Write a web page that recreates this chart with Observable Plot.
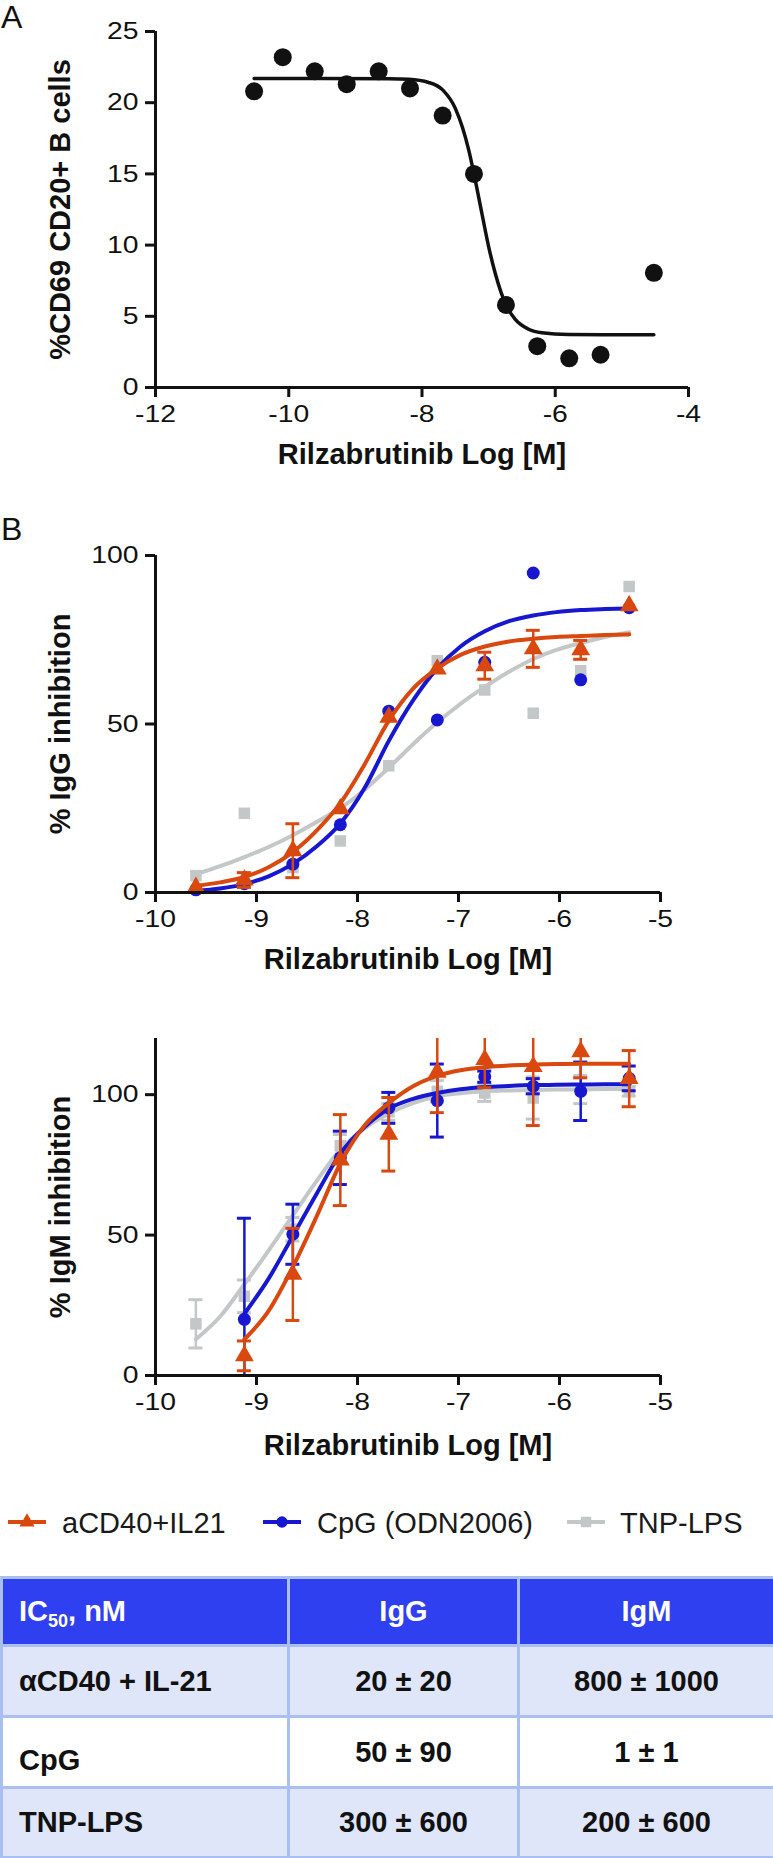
<!DOCTYPE html>
<html><head><meta charset="utf-8">
<script src="https://cdn.jsdelivr.net/npm/d3@7"></script>
<script src="https://cdn.jsdelivr.net/npm/@observablehq/plot@0.6"></script>
<style>
html,body{margin:0;padding:0;background:#fff}
body{position:relative;width:773px;height:1858px;overflow:hidden;font-family:"Liberation Sans",Arial,Helvetica,sans-serif;color:#111}
.panel{position:absolute;left:0}
.tag{position:absolute;left:1px;font-size:32px;line-height:1}
table{position:absolute;left:0;top:1576px;width:773px;border-collapse:collapse;table-layout:fixed;font-weight:bold;font-size:29px;color:#111}
td,th{border:3px solid #a9bff2;padding:0 0 0 16px;text-align:left;font-weight:bold}
th{background:#2e40f0;color:#fff}
td.c,th.c{text-align:center;padding:0}
tr.shade td{background:#dfe6fa}
sub{font-size:18px;vertical-align:-6px;line-height:0}
</style></head>
<body>
<div class="tag" style="top:1px">A</div>
<div class="tag" style="top:513px">B</div>
<div id="pa" class="panel" style="top:0"></div>
<div id="pb" class="panel" style="top:500px"></div>
<div id="pc" class="panel" style="top:1000px"></div>
<div id="legend"></div>
<div id="tbl"></div>
<script>
// ---------- Panel A data ----------
const xTicksA = [-12, -10, -8, -6, -4];
const yTicksA = [0, 5, 10, 15, 20, 25];
const logConcA = [-10.52, -10.09, -9.61, -9.13, -8.65, -8.18, -7.69, -7.22, -6.74, -6.27, -5.79, -5.32, -4.52];
const pctCD69 = [20.8, 23.2, 22.2, 21.3, 22.2, 21.0, 19.1, 15.0, 5.8, 2.9, 2.05, 2.3, 8.05];
const fitLogA = [-10.52, -9.5, -8.5, -8.2, -7.9, -7.69, -7.5, -7.3, -7.22, -7.1, -7.0, -6.9, -6.74, -6.6, -6.4, -6.2, -5.8, -5.0, -4.52];
const fitCD69 = [21.7, 21.7, 21.68, 21.64, 21.42, 20.9, 19.6, 16.7, 15.0, 12.2, 9.9, 8.0, 5.8, 4.78, 4.09, 3.84, 3.72, 3.7, 3.7];

// ---------- Panel B data ----------
const xTicksB = [-10, -9, -8, -7, -6, -5];
const yTicksIgG = [0, 50, 100];
const yTicksIgM = [0, 50, 100];
const yMaxIgM = 120;
const seriesNames = ["aCD40+IL21", "CpG (ODN2006)", "TNP-LPS"];
const seriesColors = ["#d9480f", "#1717cf", "#c3c7c7"];
const seriesSymbols = ["triangle", "circle", "square"];
const logConc = [-9.6, -9.12, -8.64, -8.17, -7.69, -7.21, -6.74, -6.26, -5.79, -5.31];

const iggAcd40   = [1.5, 3.7, 12.4, 24.8, 52.0, 66.3, 67.3, 72.3, 72.0, 85.1];
const iggAcd40Sd = [0, 2.2, 8, 0, 0, 0, 4, 5.5, 2.8, 0];
const iggCpg     = [0.8, 2.6, 8.4, 20.1, 53.8, 51.2, 68.3, 94.8, 63.1, 84.5];
const iggCpgSd   = [0, 0, 0, 0, 0, 0, 0, 0, 0, 0];
const iggTnp     = [5.0, 23.5, 7.4, 15.3, 37.6, 68.8, 60.1, 53.2, 65.8, 90.8];
const iggTnpSd   = [0, 0, 0, 0, 0, 0, 0, 0, 0, 0];

const igmAcd40   = [null, 7.0, 36, 76.7, 85.9, 108, 112.5, 110, 115.3, 105.7];
const igmAcd40Sd = [null, 5.3, 16.4, 16.2, 13.1, 14.4, 10, 21, 9.3, 10];
const igmCpg     = [null, 20, 50.3, 77.5, 95.3, 97.9, 106.4, 103, 101.2, 105.8];
const igmCpgSd   = [null, 36, 10.7, 9.5, 5.5, 13, 2, 2.7, 10.4, 4.4];
const igmTnp     = [18.4, 28.2, 52.1, 81.8, 93.9, 101.2, 100.6, 98.8, 101.8, 101.2];
const igmTnpSd   = [8.6, 5.8, 4.2, 4, 3, 3.8, 3, 7.5, 5, 1.7];

const fitLog = [-9.6, -9.36, -9.12, -8.88, -8.64, -8.4, -8.17, -7.93, -7.69, -7.45, -7.21, -6.98, -6.74, -6.5, -6.26, -6.03, -5.79, -5.55, -5.31];
const fitIggAcd40 = [2.0, 3.0, 4.6, 7.5, 12.0, 18.5, 26.5, 38, 51, 60.5, 66.5, 70.5, 73, 74.5, 75.3, 75.8, 76.1, 76.4, 76.6];
const fitIggCpg   = [0.5, 1.2, 2.5, 4.8, 8.5, 13.8, 20.5, 31, 45, 57, 66.5, 73, 77.5, 80.5, 82.2, 83.2, 83.8, 84.1, 84.3];
const fitIggTnp   = [5.4, 7.8, 10.5, 13.5, 17, 21, 25, 30.5, 37, 44, 50.5, 56, 61, 65.5, 69.3, 72, 74, 75.8, 77.2];
const fitIgmAcd40 = [null, null, 12.9, 23, 38.7, 57, 75.5, 89, 97, 103, 106.7, 108.7, 109.8, 110.4, 110.7, 110.9, 111, 111, 111];
const fitIgmCpg   = [null, null, 22, 34.5, 49.7, 65, 79, 88.5, 95, 98.5, 100.6, 101.9, 102.7, 103.1, 103.4, 103.5, 103.6, 103.7, 103.7];
const fitIgmTnp   = [12.9, 21, 32.5, 44.5, 57, 69.5, 80.4, 88, 93.3, 97, 99.4, 100.5, 101.2, 101.5, 101.7, 101.8, 101.9, 102, 102];

// ---------- Table data ----------
const tableHeader = ["IC50, nM", "IgG", "IgM"];
const tableRows = ["αCD40 + IL-21", "CpG", "TNP-LPS"];
const ic50IgG = ["20 ± 20", "50 ± 90", "300 ± 600"];
const ic50IgM = ["800 ± 1000", "1 ± 1", "200 ± 600"];

const FONT = '"Liberation Sans", Arial, Helvetica, sans-serif';
const INK = "#111";
const xLabel = "Rilzabrutinib Log [M]";

function axes(xt, yt, yLabel, xOff, yOff) {
  return [
    Plot.axisX(xt, {tickSize: 10, tickPadding: 7, fontSize: 24, strokeWidth: 3, stroke: INK, fill: INK, tickFormat: d => String(d), label: null}),
    Plot.axisY(yt, {tickSize: 10, tickPadding: 7, fontSize: 24, strokeWidth: 3, stroke: INK, fill: INK, tickFormat: d => String(d), label: null}),
    Plot.axisX([], {tickSize: 0, label: xLabel, labelAnchor: "center", labelOffset: xOff, labelArrow: "none", fontSize: 29, fontWeight: "bold", fill: INK}),
    Plot.axisY([], {tickSize: 0, label: yLabel, labelAnchor: "center", labelOffset: yOff, labelArrow: "none", fontSize: 29, fontWeight: "bold", fill: INK})
  ];
}
// the original figure's tick numerals are slightly wide: stretch them horizontally
function widenTicks(svg) {
  d3.select(svg).selectAll('g[aria-label="x-axis tick label"] text, g[aria-label="y-axis tick label"] text')
    .attr("transform", function() { return (this.getAttribute("transform") || "") + " scale(1.18,1)"; });
  return svg;
}

// ---------- Panel A ----------
const ptsA = logConcA.map((x, i) => ({x, y: pctCD69[i]}));
const fitA = fitLogA.map((x, i) => ({x, y: fitCD69[i]}));
const chartA = Plot.plot({
  width: 773, height: 480,
  marginTop: 31, marginLeft: 155, marginRight: 85, marginBottom: 93,
  style: {fontFamily: FONT, color: INK, background: "transparent", overflow: "visible"},
  x: {domain: [xTicksA[0], xTicksA[xTicksA.length - 1]]},
  y: {domain: [yTicksA[0], yTicksA[yTicksA.length - 1]]},
  marks: [
    ...axes(xTicksA, yTicksA, "%CD69 CD20+ B cells", 76, 106),
    Plot.ruleY([yTicksA[0]], {stroke: INK, strokeWidth: 3}),
    Plot.ruleX([xTicksA[0]], {stroke: INK, strokeWidth: 3}),
    Plot.line(fitA, {x: "x", y: "y", stroke: INK, strokeWidth: 3.5, curve: "monotone-x"}),
    Plot.dot(ptsA, {x: "x", y: "y", r: 9, fill: INK})
  ]
});
document.getElementById("pa").append(widenTicks(chartA));

// ---------- Panels B ----------
function buildSeries(vals, sds) {
  return vals.map((v, si) => logConc.map((x, i) => ({x, y: v[i], sd: sds[si][i], s: si})).filter(d => d.y != null));
}
function buildFits(fits) {
  return fits.map((f, si) => fitLog.map((x, i) => ({x, y: f[i], s: si})).filter(d => d.y != null));
}
function seriesMarks(pts, fits) {
  const m = [];
  for (const si of [2, 1, 0]) {
    const p = pts[si];
    const e = p.filter(d => d.sd > 0);
    const c = seriesColors[si];
    m.push(Plot.ruleX(e, {x: "x", y1: d => d.y - d.sd, y2: d => d.y + d.sd, stroke: c, strokeWidth: 2.5, clip: true}));
    m.push(Plot.ruleY(e, {y: d => d.y - d.sd, x1: "x", x2: "x", insetLeft: -7, insetRight: -7, stroke: c, strokeWidth: 3, clip: true}));
    m.push(Plot.ruleY(e, {y: d => d.y + d.sd, x1: "x", x2: "x", insetLeft: -7, insetRight: -7, stroke: c, strokeWidth: 3, clip: true}));
    m.push(Plot.line(fits[si], {x: "x", y: "y", stroke: c, strokeWidth: 4, curve: "monotone-x"}));
    m.push(Plot.dot(p, {x: "x", y: "y", r: si === 0 ? 7 : 6.5, symbol: seriesSymbols[si], fill: c}));
  }
  return m;
}

const ptsIgG = buildSeries([iggAcd40, iggCpg, iggTnp], [iggAcd40Sd, iggCpgSd, iggTnpSd]);
const fitsIgG = buildFits([fitIggAcd40, fitIggCpg, fitIggTnp]);
const chartB = Plot.plot({
  width: 773, height: 480,
  marginTop: 55, marginLeft: 155, marginRight: 113, marginBottom: 88,
  style: {fontFamily: FONT, color: INK, background: "transparent", overflow: "visible"},
  x: {domain: [xTicksB[0], xTicksB[xTicksB.length - 1]]},
  y: {domain: [yTicksIgG[0], yTicksIgG[yTicksIgG.length - 1]]},
  marks: [
    ...seriesMarks(ptsIgG, fitsIgG),
    ...axes(xTicksB, yTicksIgG, "% IgG inhibition", 76, 106),
    Plot.ruleY([yTicksIgG[0]], {stroke: INK, strokeWidth: 3}),
    Plot.ruleX([xTicksB[0]], {stroke: INK, strokeWidth: 3})
  ]
});
document.getElementById("pb").append(widenTicks(chartB));

const ptsIgM = buildSeries([igmAcd40, igmCpg, igmTnp], [igmAcd40Sd, igmCpgSd, igmTnpSd]);
const fitsIgM = buildFits([fitIgmAcd40, fitIgmCpg, fitIgmTnp]);
const chartC = Plot.plot({
  width: 773, height: 470,
  marginTop: 38, marginLeft: 155, marginRight: 113, marginBottom: 95,
  style: {fontFamily: FONT, color: INK, background: "transparent", overflow: "visible"},
  x: {domain: [xTicksB[0], xTicksB[xTicksB.length - 1]]},
  y: {domain: [yTicksIgM[0], yMaxIgM]},
  marks: [
    ...seriesMarks(ptsIgM, fitsIgM),
    ...axes(xTicksB, yTicksIgM, "% IgM inhibition", 79, 106),
    Plot.ruleY([yTicksIgM[0]], {stroke: INK, strokeWidth: 3}),
    Plot.ruleX([xTicksB[0]], {stroke: INK, strokeWidth: 3})
  ]
});
document.getElementById("pc").append(widenTicks(chartC));

// ---------- Legend ----------
const legend = document.getElementById("legend");
const markerLeft = [8, 263, 567];
const textLeft = [62, 317, 620];
seriesNames.forEach((name, i) => {
  const w = 38, h = 44;
  const svg = d3.create("svg").attr("width", w).attr("height", h)
    .style("position", "absolute").style("left", markerLeft[i] + "px").style("top", "1500px");
  svg.append("line").attr("x1", 0).attr("x2", w).attr("y1", 22).attr("y2", 22)
    .attr("stroke", seriesColors[i]).attr("stroke-width", 4);
  const sym = {triangle: d3.symbolTriangle, circle: d3.symbolCircle, square: d3.symbolSquare}[seriesSymbols[i]];
  svg.append("path").attr("d", d3.symbol(sym, i === 2 ? 110 : 100)()).attr("transform", `translate(${w / 2},22)`)
    .attr("fill", seriesColors[i]);
  legend.append(svg.node());
  const span = document.createElement("span");
  span.textContent = name;
  span.style.cssText = `position:absolute;left:${textLeft[i]}px;top:1509px;font-size:29px;line-height:1;white-space:nowrap;color:#1a1a1a`;
  legend.append(span);
});

// ---------- Table ----------
const rowH = [68, 71, 71, 70];
let html = `<table><colgroup><col style="width:287px"><col style="width:230px"><col style="width:256px"></colgroup>`;
html += `<tr style="height:${rowH[0]}px"><th>${tableHeader[0].replace("50", "<sub>50</sub>")}</th><th class="c">${tableHeader[1]}</th><th class="c">${tableHeader[2]}</th></tr>`;
tableRows.forEach((r, i) => {
  html += `<tr class="${i % 2 === 0 ? "shade" : ""}" style="height:${rowH[i + 1]}px"><td${i === 1 ? ' style="padding-top:16px"' : ""}>${r}</td><td class="c">${ic50IgG[i]}</td><td class="c">${ic50IgM[i]}</td></tr>`;
});
html += `</table>`;
document.getElementById("tbl").innerHTML = html;
</script>
</body></html>
